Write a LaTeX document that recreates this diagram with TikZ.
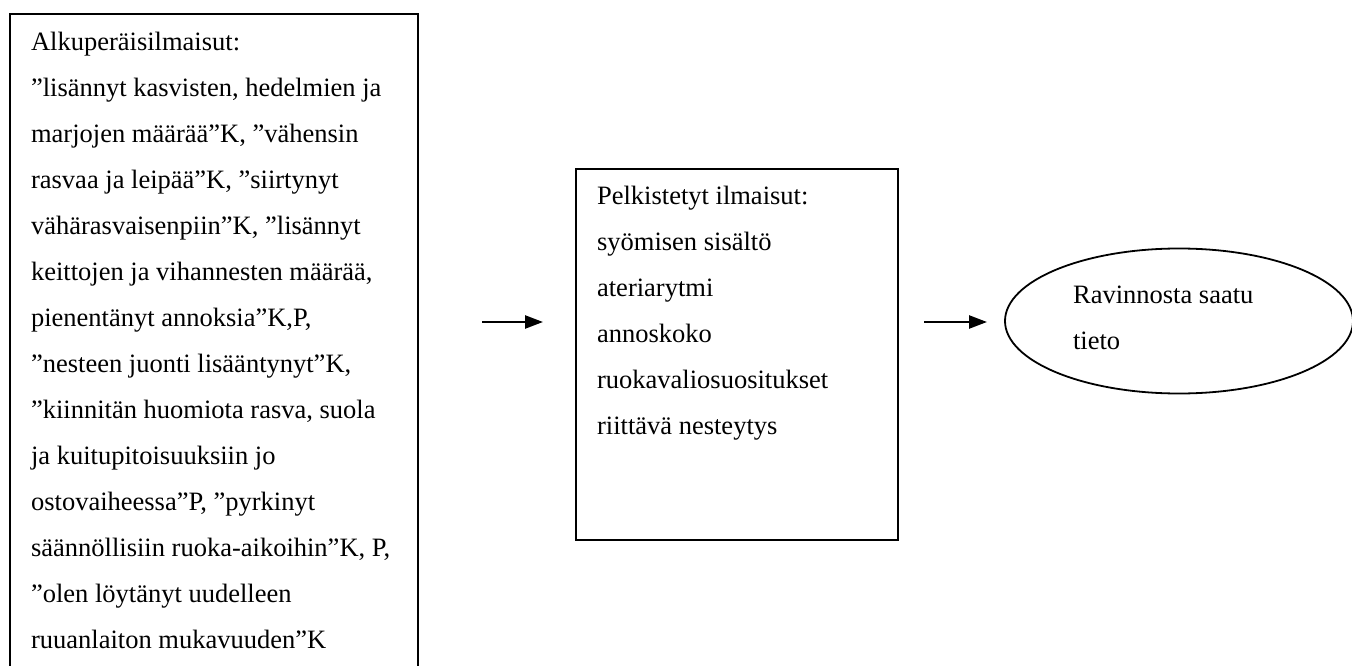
\documentclass[tikz,border=0pt]{standalone}
\usepackage{fontspec}
\setmainfont{Liberation Serif}
\usetikzlibrary{arrows.meta,shapes.geometric}

\begin{document}
\begin{tikzpicture}[x=1pt, y=1pt, line width=2.2pt,
	box node/.style={draw, rectangle, anchor=north west, inner sep=0pt},
	text node/.style={anchor=north west, inner sep=0pt, align=left,
		font=\fontsize{26.5}{46}\selectfont},
	oval node/.style={draw, ellipse, inner sep=0pt, line width=1.8pt},
	arr/.style={-{Triangle[length=18pt,width=13pt]}, line width=2.4pt}]
	\useasboundingbox (0,0) rectangle (1352,-666);
	\clip (0,0) rectangle (1352,-666);
	
	\node[box node, minimum width=408pt, minimum height=700pt] (orig) at (9,-13) {};
	\node[text node] (origtxt) at ([shift={(21,-18)}]orig.north west)
	{Alkuperäisilmaisut:\\
	”lisännyt kasvisten, hedelmien ja\\
	marjojen määrää”K, ”vähensin\\
	rasvaa ja leipää”K, ”siirtynyt\\
	vähärasvaisenpiin”K, ”lisännyt\\
	keittojen ja vihannesten määrää,\\
	pienentänyt annoksia”K,P,\\
	”nesteen juonti lisääntynyt”K,\\
	”kiinnitän huomiota rasva, suola\\
	ja kuitupitoisuuksiin jo\\
	ostovaiheessa”P, ”pyrkinyt\\
	säännöllisiin ruoka-aikoihin”K, P,\\
	”olen löytänyt uudelleen\\
	ruuanlaiton mukavuuden”K};
	
	\node[box node, minimum width=322pt, minimum height=371pt] (simpl) at (575,-168) {};
	\node[text node] (simpltxt) at ([shift={(21,-17)}]simpl.north west)
	{Pelkistetyt ilmaisut:\\
	syömisen sisältö\\
	ateriarytmi\\
	annoskoko\\
	ruokavaliosuositukset\\
	riittävä nesteytys};
	
	\node[oval node, minimum width=348pt, minimum height=145pt] (info) at (1179,-321) {};
	\node[text node] (infotxt) at (1072,-285) {Ravinnosta saatu\\ tieto};
	
	\coordinate (a1) at (482,-322);
	\coordinate (b1) at (543,-322);
	\coordinate (a2) at (924,-322);
	\coordinate (b2) at (987,-322);
	\draw[arr] (a1) -- (b1);
	\draw[arr] (a2) -- (b2);
\end{tikzpicture}
\end{document}
